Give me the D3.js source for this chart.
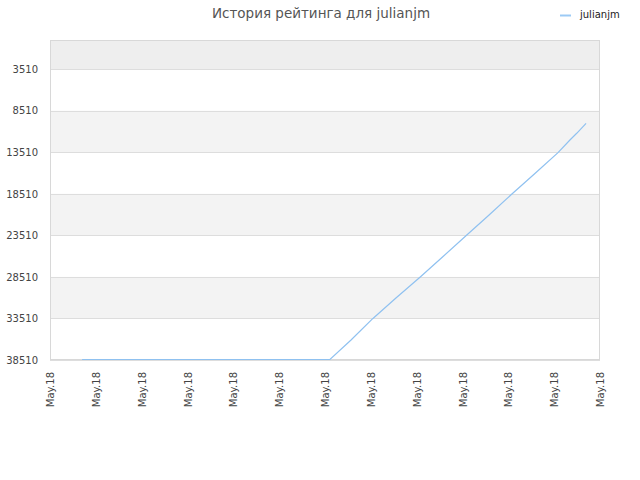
<!DOCTYPE html>
<html>
<head>
<meta charset="utf-8">
<script src="https://cdn.jsdelivr.net/npm/d3@7"></script>
<style>
  body { margin: 0; background: #fff; }
  text { font-family: "DejaVu Sans", sans-serif; }
</style>
</head>
<body>
<div id="chart"></div>
<script>
var title = "История рейтинга для julianjm"
var seriesName = "julianjm"

// days after 1 May 2018, and rank on that day
var days = [1.75, 8.5, 15.27, 16.42, 17.6, 18.87, 20.18, 21.44, 22.69, 23.95,
	25.18, 26.45, 27.71, 28.36, 28.73, 29.24]
var ranks = [38450, 38450, 38450, 36102, 33539, 31048, 28557, 26054, 23551, 21060,
	18568, 16065, 13562, 12033, 11228, 10024]

var yTicks = [3510, 8510, 13510, 18510, 23510, 28510, 33510, 38510]
var xTickCount = 13

var width = 640, height = 480
var margin = {top: 40, right: 40, bottom: 120, left: 50}

var start = new Date(2018, 4, 1), end = new Date(2018, 4, 31)
function dayToDate(d){ return new Date(start.getTime() + d * 864e5) }

var svg = d3.select("#chart").append("svg")
	.attr("width", width)
	.attr("height", height)

var x = d3.scaleTime()
	.domain([start, end])
	.range([margin.left, width - margin.right])

var y = d3.scaleLinear()
	.domain([0, 38510])
	.range([margin.top, height - margin.bottom])

// alternating bands
var bandEdges = [0].concat(yTicks)
svg.selectAll("rect.band").data(d3.pairs(bandEdges)).enter().append("rect")
	.attr("class", "band")
	.attr("x", margin.left)
	.attr("width", width - margin.left - margin.right)
	.attr("y", function(d){ return y(d[0]) })
	.attr("height", function(d){ return y(d[1]) - y(d[0]) })
	.style("fill", function(d, i){ return i == 0 ? "#eeeeee" : (i % 2 == 0 ? "#f3f3f3" : "#ffffff") })

// grid
svg.selectAll("line.grid").data(yTicks).enter().append("line")
	.attr("class", "grid")
	.attr("x1", margin.left)
	.attr("x2", width - margin.right)
	.attr("y1", function(d){ return Math.round(y(d)) + .5 })
	.attr("y2", function(d){ return Math.round(y(d)) + .5 })
	.style("stroke", "#dddddd")

svg.append("rect")
	.attr("x", margin.left + .5)
	.attr("y", margin.top + .5)
	.attr("width", width - margin.left - margin.right - 1)
	.attr("height", height - margin.top - margin.bottom - 1)
	.style("fill", "none")
	.style("stroke", "#d8d8d8")

// y axis
var yAxis = d3.axisLeft(y).tickValues(yTicks).tickSize(0).tickPadding(12)
	.tickFormat(d3.format("d"))
var gy = svg.append("g")
	.attr("transform", "translate(" + margin.left + ",0)")
	.call(yAxis)
gy.select(".domain").remove()
gy.selectAll("text")
	.style("font-size", "10px")
	.style("fill", "#444")
	.style("font-family", "DejaVu Sans, sans-serif")

// x axis
var step = (end - start) / (xTickCount - 1)
var xTickValues = d3.range(xTickCount).map(function(i){ return new Date(start.getTime() + i * step) })
var xAxis = d3.axisBottom(x).tickValues(xTickValues).tickSize(0)
	.tickFormat(d3.timeFormat("%b.%y"))
var gx = svg.append("g")
	.attr("transform", "translate(0," + (height - margin.bottom) + ")")
	.call(xAxis)
gx.select(".domain").remove()
gx.selectAll("text")
	.style("font-size", "10px")
	.style("fill", "#444")
	.style("font-family", "DejaVu Sans, sans-serif")
	.style("text-anchor", "end")
	.attr("dy", "0.35em")
	.attr("transform", "translate(0,12) rotate(-90)")
	.attr("x", 0)
	.attr("y", 0)

// series
var data = days.map(function(d, i){ return [dayToDate(d), ranks[i]] })
var line = d3.line()
	.x(function(d){ return x(d[0]) })
	.y(function(d){ return y(d[1]) })

svg.append("path")
	.datum(data)
	.attr("d", line)
	.style("fill", "none")
	.style("stroke", "#8fc1f0")
	.style("stroke-width", 1.2)

// title
svg.append("text")
	.attr("x", 321)
	.attr("y", 18)
	.attr("text-anchor", "middle")
	.style("font-size", "13.5px")
	.style("fill", "#555")
	.text(title)

// legend
svg.append("line")
	.attr("x1", 560).attr("x2", 571)
	.attr("y1", 15.5).attr("y2", 15.5)
	.style("stroke", "#9ccaf5")
	.style("stroke-width", 2)
svg.append("text")
	.attr("x", 580)
	.attr("y", 18)
	.style("font-size", "10px")
	.style("fill", "#222")
	.text(seriesName)
</script>
</body>
</html>
